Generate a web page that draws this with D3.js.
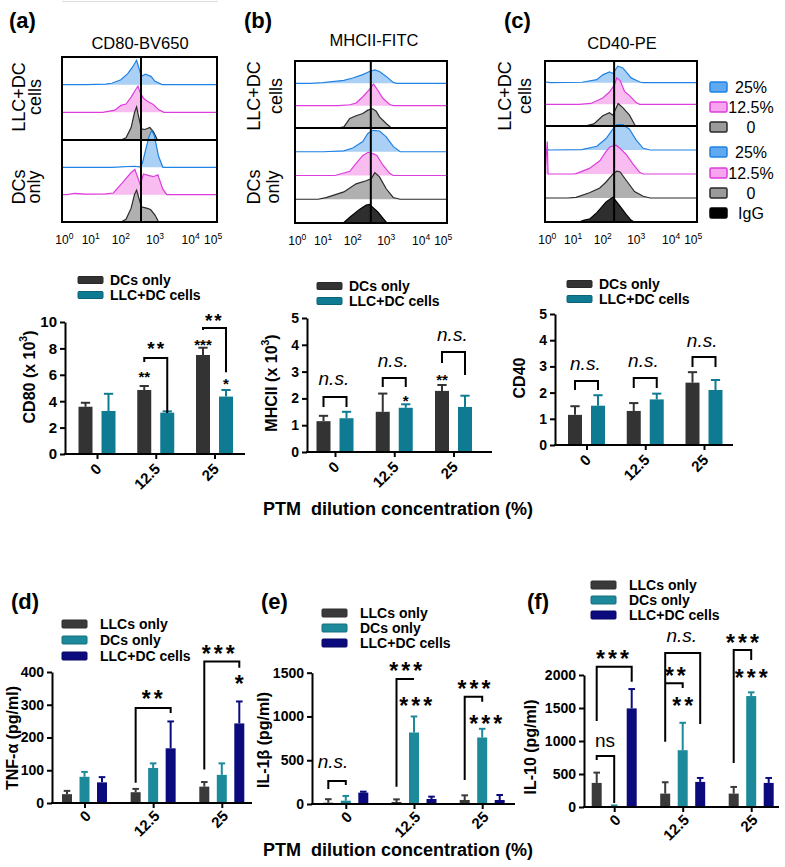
<!DOCTYPE html>
<html><head><meta charset="utf-8">
<script src="https://cdn.jsdelivr.net/npm/d3@7"></script>
<style>
body{margin:0;background:#fff}
svg{display:block}
text{font-family:Arial,"Liberation Sans",Helvetica,sans-serif}
</style>
</head><body>
<svg id="c" width="785" height="867"></svg>
<script>
// ================= DATA =================
const cats = ["0", "12.5", "25"];
const decades = [0, 1, 2, 3, 4, 5];
const upperSeries = ["DCs only", "LLC+DC cells"];
const lowerSeries = ["LLCs only", "DCs only", "LLC+DC cells"];
const histLegend = ["25%", "12.5%", "0", "25%", "12.5%", "0", "IgG"];

// flow histograms: [log10 intensity, relative count (100 = one row height)]
const cd80LlcDc25 = [[0.8,0],[1.5,2],[1.7,5],[2.0,18],[2.2,40],[2.35,65],[2.46,88],[2.53,60],[2.6,30],[2.72,38],[2.88,30],[3.0,12],[3.2,0]];
const cd80LlcDc12 = [[1.4,0],[1.8,8],[2.0,25],[2.15,30],[2.3,55],[2.42,80],[2.5,95],[2.57,70],[2.67,50],[2.8,38],[2.95,28],[3.1,10],[3.25,0]];
const cd80LlcDc0  = [[2.0,0],[2.15,8],[2.3,45],[2.4,100],[2.46,120],[2.52,85],[2.6,40],[2.7,38],[2.85,45],[2.95,30],[3.07,0]];
const cd80Dc25 = [[1.7,0],[2.2,3],[2.4,4],[2.55,2],[2.63,15],[2.72,60],[2.82,110],[2.9,133],[2.98,115],[3.1,40],[3.22,0]];
const cd80Dc12 = [[0.1,0],[0.4,5],[0.8,2],[1.5,3],[1.75,6],[2.06,45],[2.3,80],[2.41,91],[2.5,60],[2.57,35],[2.66,75],[2.8,70],[2.95,65],[3.08,72],[3.22,20],[3.33,0]];
const cd80Dc0  = [[2.0,0],[2.15,10],[2.3,50],[2.4,100],[2.46,115],[2.52,90],[2.6,55],[2.75,50],[2.87,45],[3.0,25],[3.1,0]];

const mhcLlcDc25 = [[0.5,0],[1.0,3],[1.7,13],[2.0,24],[2.3,39],[2.5,53],[2.66,60],[2.8,53],[3.0,31],[3.2,4],[3.3,0]];
const mhcLlcDc12 = [[1.5,0],[1.9,4],[2.1,12],[2.3,40],[2.5,73],[2.62,97],[2.7,80],[2.9,33],[3.1,5],[3.2,0]];
const mhcLlcDc0  = [[1.5,0],[1.7,5],[1.9,43],[2.1,55],[2.3,65],[2.45,80],[2.6,86],[2.7,75],[2.8,50],[3.0,20],[3.15,0]];
const mhcDc25 = [[1.0,0],[1.7,4],[2.0,17],[2.3,46],[2.45,82],[2.6,96],[2.8,93],[3.0,67],[3.2,24],[3.4,0]];
const mhcDc12 = [[1.4,0],[1.9,19],[2.1,54],[2.3,90],[2.46,104],[2.6,98],[2.72,90],[2.9,47],[3.1,10],[3.2,0]];
const mhcDc0  = [[0.8,0],[1.1,7],[1.7,33],[2.1,69],[2.4,83],[2.55,92],[2.66,119],[2.8,100],[3.0,47],[3.2,8],[3.4,0]];
const mhcIgG  = [[1.5,0],[1.7,2],[1.9,26],[2.2,61],[2.4,80],[2.5,83],[2.6,70],[2.75,50],[2.9,22],[3.02,0]];

const cd40LlcDc25 = [[0.0,3],[0.1,0],[1.3,2],[1.8,14],[2.0,36],[2.2,50],[2.3,42],[2.45,76],[2.6,68],[2.85,22],[3.1,3],[3.2,0]];
const cd40LlcDc12 = [[1.2,0],[1.6,4],[2.0,29],[2.2,57],[2.35,90],[2.42,122],[2.52,110],[2.65,60],[2.8,40],[3.0,8],[3.1,0]];
const cd40LlcDc0  = [[1.4,0],[1.7,10],[2.0,47],[2.2,61],[2.3,50],[2.46,104],[2.6,85],[2.8,50],[2.96,5],[3.0,0]];
const cd40Dc25 = [[0.0,2],[0.1,0],[1.3,2],[1.8,17],[2.1,53],[2.3,96],[2.42,117],[2.6,117],[2.8,96],[3.0,46],[3.2,8],[3.4,0]];
const cd40Dc12 = [[0.0,150],[0.03,0],[1.0,0],[1.1,2],[1.55,26],[1.9,61],[2.1,104],[2.22,126],[2.4,133],[2.52,118],[2.7,90],[2.9,47],[3.1,8],[3.2,0]];
const cd40Dc0  = [[0.8,0],[1.1,3],[1.55,24],[1.9,46],[2.1,74],[2.3,110],[2.42,124],[2.52,120],[2.7,82],[2.95,30],[3.2,8],[3.4,0]];
const cd40IgG  = [[1.2,0],[1.35,8],[1.57,15],[1.8,43],[2.1,93],[2.3,114],[2.38,100],[2.52,72],[2.7,35],[2.85,8],[2.95,0]];

const gateLog = {a: 2.59, b: 2.54, c: 2.34};

// bar data (upper: x10^3 MFI)
const cd80Dc = [3.58, 4.85, 7.5],  cd80DcErr = [0.3, 0.3, 0.55];
const cd80Llc = [3.26, 3.13, 4.35], cd80LlcErr = [1.3, 0.1, 0.5];
const mhcDc = [1.15, 1.5, 2.28],   mhcDcErr = [0.2, 0.68, 0.22];
const mhcLlc = [1.26, 1.65, 1.68], mhcLlcErr = [0.24, 0.13, 0.42];
const cd40Dc = [1.15, 1.3, 2.38],  cd40DcErr = [0.33, 0.3, 0.4];
const cd40Llc = [1.5, 1.74, 2.1],  cd40LlcErr = [0.4, 0.22, 0.38];

// lower (pg/ml)
const tnfLlc = [27, 33, 50],   tnfLlcErr = [10, 10, 14];
const tnfDc = [80, 107, 86],   tnfDcErr = [15, 14, 35];
const tnfMix = [63, 167, 243], tnfMixErr = [16, 82, 67];
const il1bLlc = [15, 23, 46],    il1bLlcErr = [40, 30, 53];
const il1bDc = [38, 817, 760],   il1bDcErr = [54, 183, 99];
const il1bMix = [130, 57, 46],   il1bMixErr = [11, 27, 57];
const il10Llc = [365, 203, 203],  il10LlcErr = [156, 172, 101];
const il10Dc = [15, 861, 1681],   il10DcErr = [8, 415, 56];
const il10Mix = [1494, 380, 365], il10MixErr = [293, 60, 75];

// annotations: [text, category, series position, value, style]
const annA = [["**","12.5",0,6.1,"sm"],["**","12.5",0.5,8.4,"md"],["***","25",0,8.55,"sm"],["**","25",0.45,10.5,"md"],["*","25",1,5.6,"sm"]];
const annB = [["n.s.","0",0.45,2.69,"it"],["n.s.","12.5",0.45,3.36,"it"],["*","12.5",1,2.05,"sm"],["n.s.","25",0.45,4.33,"it"],["**","25",0,2.84,"sm"]];
const annC = [["n.s.","0",0.45,3.05,"it"],["n.s.","12.5",0.42,3.17,"it"],["n.s.","25",0.42,3.93,"it"]];
const annD = [["**","12.5",0.95,336,"lg"],["***","25",0.8,473,"lg"],["*","25",2,382,"lg"]];
const annE = [["n.s.","0",0.27,468,"it"],["***","12.5",0.53,1587,"lg"],["***","12.5",1.1,1187,"lg"],["***","25",0.53,1385,"lg"],["***","25",1.2,982,"lg"]];
const annF = [["***","0",0.9,2333,"lg"],["ns","0",0.47,989,"rg"],["n.s.","12.5",0.95,2580,"it"],["**","12.5",0.58,2076,"lg"],["**","12.5",1.0,1621,"lg"],["***","25",0.5,2580,"lg"],["***","25",1,2050,"lg"]];
// brackets: [category, left series, right series, top, left-leg bottom, right-leg bottom]
const brkA = [["12.5",0,1,7.27,6.97,3.1],["25",0,1,9.55,9.4,6.2]];
const brkB = [["0",0,1,2.05,1.68,1.68],["12.5",0,1,2.76,2.43,2.43],["25",0,1,3.73,3.32,2.87]];
const brkC = [["0",0,1,2.44,2.1,2.1],["12.5",0,1,2.56,2.18,2.18],["25",0,1,3.36,2.98,2.98]];
const brkD = [["12.5",0,2,290,62,275],["25",0,2,432,102,413]];
const brkE = [["0",0,1,263,171,217],["12.5",0,1,1427,198,1427],["25",0,1,1225,274,1168]];
const brkF = [["0",0,2,2126,1303,1898],["0",0,1,773,712,60],["12.5",0,2,2333,989,1258],["12.5",0,1,1874,1874,1803],["25",0,1,2379,667,2227]];

// ================= STYLE =================
const DARK = "#333333", TEAL = "#0f7b93";
const LDARK = "#3a3a3a", LTEAL = "#1d8a9b", NAVY = "#0b0b7e";
const HC = {
  b: {fill: "#a3cdf4", stroke: "#1f82e4", sw: "#5fa9f0"},
  p: {fill: "#f8b6ef", stroke: "#dd3ddc", sw: "#f6a5ee"},
  g: {fill: "#a9a9a9", stroke: "#2a2a2a", sw: "#9a9a9a"},
  k: {fill: "#1c1c1c", stroke: "#000000", sw: "#000000"}
};
const decadeFrac = [0.015, 0.185, 0.38, 0.6, 0.83, 0.965];
const svg = d3.select("#c");

// faint artefact line at very top
svg.append("line").attr("x1",62).attr("x2",218).attr("y1",1.5).attr("y2",1.5).attr("stroke","#dddddd").attr("stroke-width",1);

function panelLabel(t, x, y) {
  svg.append("text").attr("x", x).attr("y", y).attr("font-size", 22).attr("font-weight", "bold")
    .attr("dominant-baseline", "central").text(t);
}

// ================= HISTOGRAMS =================
function drawHist(cfg) {
  const g = svg.append("g");
  const x = d3.scaleLinear().domain(decades).range(decadeFrac.map(f => cfg.x0 + f * (cfg.x1 - cfg.x0)));
  const rowH = (cfg.mid - cfg.top) / 3;
  const h = d3.scaleLinear().domain([0, 100]).range([0, rowH]);
  const xmin = x.invert(cfg.x0), xmax = x.invert(cfg.x1);
  const nBot = cfg.rows.length - 3;
  const clipId = "clip" + cfg.id;
  g.append("clipPath").attr("id", clipId).append("rect")
    .attr("x", cfg.x0).attr("y", cfg.top).attr("width", cfg.x1 - cfg.x0).attr("height", cfg.bottom - cfg.top);
  const body = g.append("g").attr("clip-path", `url(#${clipId})`);
  cfg.rows.forEach((r, i) => {
    const base = i < 3 ? cfg.top + rowH * (i + 1) : cfg.mid + (cfg.bottom - cfg.mid) / nBot * (i - 2);
    const pts = [[xmin, 0], ...r.data, [xmax, 0]];
    const c = HC[r.c];
    body.append("path").datum(pts)
      .attr("d", d3.area().x(d => x(d[0])).y0(base).y1(d => base - h(d[1])))
      .attr("fill", c.fill).attr("fill-opacity", 0.92);
    body.append("path").datum(pts)
      .attr("d", d3.line().x(d => x(d[0])).y(d => base - h(d[1])))
      .attr("fill", "none").attr("stroke", c.stroke).attr("stroke-width", 1.2);
  });
  // frame, midline, gate
  g.append("rect").attr("x", cfg.x0).attr("y", cfg.top).attr("width", cfg.x1 - cfg.x0).attr("height", cfg.bottom - cfg.top)
    .attr("fill", "none").attr("stroke", "#000").attr("stroke-width", 2);
  g.append("line").attr("x1", cfg.x0).attr("x2", cfg.x1).attr("y1", cfg.mid).attr("y2", cfg.mid).attr("stroke", "#000").attr("stroke-width", 2);
  g.append("line").attr("x1", x(cfg.gate)).attr("x2", x(cfg.gate)).attr("y1", cfg.top).attr("y2", cfg.bottom).attr("stroke", "#000").attr("stroke-width", 2);
  // decade labels
  decades.forEach(d => {
    const t = g.append("text").attr("x", x(d) + (d === 5 ? 1.5 : 0)).attr("y", cfg.bottom + 22).attr("text-anchor", "middle").attr("font-size", 12);
    t.append("tspan").text("10");
    t.append("tspan").attr("dy", -5).attr("font-size", 8.5).text(d);
  });
  // title
  g.append("text").attr("x", cfg.titleX).attr("y", cfg.titleY).attr("text-anchor", "middle")
    .attr("dominant-baseline", "central").attr("font-size", 16.5).text(cfg.title);
  // row labels
  cfg.rowLabels.forEach(rl => {
    rl.lines.forEach((ln, j) => {
      g.append("text").attr("transform", `translate(${rl.xs[j]},${rl.cy}) rotate(-90)`)
        .attr("text-anchor", "middle").attr("font-size", 18).text(ln);
    });
  });
  return x;
}

drawHist({
  id: "a", x0: 62, x1: 217, top: 57, mid: 140, bottom: 222, gate: gateLog.a,
  title: "CD80-BV650", titleX: 140, titleY: 43,
  rows: [{data: cd80LlcDc25, c: "b"}, {data: cd80LlcDc12, c: "p"}, {data: cd80LlcDc0, c: "g"},
         {data: cd80Dc25, c: "b"}, {data: cd80Dc12, c: "p"}, {data: cd80Dc0, c: "g"}],
  rowLabels: [{lines: ["LLC+DC", "cells"], xs: [25, 41], cy: 97}, {lines: ["DCs", "only"], xs: [25, 40], cy: 187}]
});
drawHist({
  id: "b", x0: 295, x1: 447, top: 61, mid: 128, bottom: 223, gate: gateLog.b,
  title: "MHCII-FITC", titleX: 374, titleY: 40,
  rows: [{data: mhcLlcDc25, c: "b"}, {data: mhcLlcDc12, c: "p"}, {data: mhcLlcDc0, c: "g"},
         {data: mhcDc25, c: "b"}, {data: mhcDc12, c: "p"}, {data: mhcDc0, c: "g"}, {data: mhcIgG, c: "k"}],
  rowLabels: [{lines: ["LLC+DC", "cells"], xs: [260, 282], cy: 96}, {lines: ["DCs", "only"], xs: [260, 279], cy: 187}]
});
drawHist({
  id: "c", x0: 545, x1: 697, top: 61, mid: 126, bottom: 222, gate: gateLog.c,
  title: "CD40-PE", titleX: 622, titleY: 43,
  rows: [{data: cd40LlcDc25, c: "b"}, {data: cd40LlcDc12, c: "p"}, {data: cd40LlcDc0, c: "g"},
         {data: cd40Dc25, c: "b"}, {data: cd40Dc12, c: "p"}, {data: cd40Dc0, c: "g"}, {data: cd40IgG, c: "k"}],
  rowLabels: [{lines: ["LLC+DC", "cells"], xs: [511, 531], cy: 96}]
});

// histogram legend (c)
const histLegendColors = ["b", "p", "g", "b", "p", "g", "k"];
const histLegendY = [87, 107, 127, 152, 173, 193, 213];
histLegend.forEach((t, i) => {
  const yy = histLegendY[i];
  const c = HC[histLegendColors[i]];
  svg.append("rect").attr("x", 710).attr("y", yy - 5).attr("width", 17).attr("height", 10).attr("rx", 1.5)
    .attr("fill", c.sw).attr("stroke", c.stroke).attr("stroke-width", 1.5);
  svg.append("text").attr("x", 751).attr("y", yy).attr("text-anchor", "middle").attr("dominant-baseline", "central")
    .attr("font-size", 16).text(t);
});

panelLabel("(a)", 9, 20);
panelLabel("(b)", 244, 20);
panelLabel("(c)", 504, 20);

// ================= BAR CHARTS =================
function starStyle(st) {
  if (st === "sm") return {fs: 15, ls: 0, it: false, bold: true};
  if (st === "md") return {fs: 19, ls: 2, it: false, bold: true};
  if (st === "lg") return {fs: 23, ls: 3, it: false, bold: true};
  if (st === "it") return {fs: 19, ls: 0, it: true, bold: false};
  return {fs: 19, ls: 0, it: false, bold: false};
}

function drawBars(cfg) {
  const g = svg.append("g");
  const n = cfg.series.length;
  const xg = d3.scalePoint().domain(cats).range([cfg.g0, cfg.g1]);
  const R = cfg.step * n - cfg.step + cfg.bw;
  const xs = d3.scaleBand().domain(d3.range(n)).range([-R / 2, R / 2]).paddingInner(1 - cfg.bw / cfg.step).paddingOuter(0);
  const y = d3.scaleLinear().domain([0, cfg.ymax]).range([cfg.yb, cfg.yt]);
  const center = s => {
    const lo = Math.floor(s), hi = Math.ceil(s);
    const cl = xs(lo) + xs.bandwidth() / 2, ch = xs(hi) + xs.bandwidth() / 2;
    return cl + (ch - cl) * (s - lo);
  };
  // bars + error bars
  cfg.vals.forEach((arr, si) => {
    arr.forEach((v, ci) => {
      const cx = xg(cats[ci]) + center(si);
      const col = cfg.colors[si];
      const top = y(v + cfg.errs[si][ci]);
      g.append("line").attr("x1", cx).attr("x2", cx).attr("y1", y(v)).attr("y2", top).attr("stroke", col).attr("stroke-width", 2);
      g.append("line").attr("x1", cx - cfg.bw * 0.33).attr("x2", cx + cfg.bw * 0.33).attr("y1", top).attr("y2", top).attr("stroke", col).attr("stroke-width", 2);
      g.append("rect").attr("x", xg(cats[ci]) + xs(si)).attr("y", y(v)).attr("width", xs.bandwidth())
        .attr("height", cfg.yb - y(v)).attr("fill", col);
    });
  });
  // y axis
  const ya = g.append("g").attr("transform", `translate(${cfg.ax0},0)`)
    .call(d3.axisLeft(y).tickValues(cfg.ticks).tickFormat(d => String(d)).tickSize(5).tickSizeOuter(0).tickPadding(3));
  ya.select(".domain").attr("stroke-width", 2);
  ya.selectAll(".tick line").attr("stroke-width", 2);
  ya.selectAll(".tick text").attr("font-size", cfg.yFont).attr("font-weight", "bold").attr("font-family", null).attr("fill", "#000");
  // x axis
  g.append("line").attr("x1", cfg.ax0 - 1).attr("x2", cfg.ax1).attr("y1", cfg.yb).attr("y2", cfg.yb).attr("stroke", "#000").attr("stroke-width", 2);
  const xa = g.append("g").attr("transform", `translate(0,${cfg.yb})`).call(d3.axisBottom(xg).tickSize(5).tickSizeOuter(0));
  xa.select(".domain").remove();
  xa.selectAll(".tick line").attr("stroke-width", 2);
  xa.selectAll(".tick text").attr("font-size", cfg.xFont).attr("font-weight", "bold").attr("font-family", null).attr("fill", "#000")
    .attr("x", 0).attr("y", 0).attr("dy", null).attr("text-anchor", "end").attr("dominant-baseline", "central")
    .attr("transform", `translate(${cfg.xdx},${cfg.xdy}) rotate(-45)`);
  // y title
  const yt = g.append("text").attr("transform", `translate(${cfg.ytx},${cfg.yty}) rotate(-90)`)
    .attr("text-anchor", "middle").attr("dominant-baseline", "central")
    .attr("font-size", cfg.ytFont).attr("font-weight", "bold");
  cfg.yTitle.forEach(part => {
    if (part.sup) yt.append("tspan").attr("baseline-shift", "super").attr("font-size", cfg.ytFont * 0.65).text(part.t);
    else yt.append("tspan").text(part.t);
  });
  // brackets
  cfg.brk.forEach(b => {
    const base = xg(b[0]);
    const xl = base + center(b[1]), xr = base + center(b[2]);
    g.append("path").attr("d", d3.line()([[xl, y(b[4])], [xl, y(b[3])], [xr, y(b[3])], [xr, y(b[5])]]))
      .attr("fill", "none").attr("stroke", "#000").attr("stroke-width", 2);
  });
  // annotations
  cfg.ann.forEach(a => {
    const st = starStyle(a[4]);
    const isStar = a[0].indexOf("*") >= 0;
    const off = isStar ? 0.6 * st.fs : 0.27 * st.fs;
    g.append("text").attr("x", xg(a[1]) + center(a[2]) + st.ls / 2).attr("y", y(a[3]) + off)
      .attr("text-anchor", "middle").attr("font-size", st.fs)
      .attr("font-weight", st.bold ? "bold" : "normal").attr("font-style", st.it ? "italic" : "normal")
      .attr("letter-spacing", st.ls).text(a[0]);
  });
  // legend
  cfg.series.forEach((s, i) => {
    const ly = cfg.legY[i];
    g.append("rect").attr("x", cfg.legX).attr("y", ly - cfg.legH / 2).attr("width", 25).attr("height", cfg.legH).attr("rx", 1)
      .attr("fill", cfg.colors[i]).attr("stroke", d3.color(cfg.colors[i]).darker(0.6)).attr("stroke-width", 1);
    g.append("text").attr("x", cfg.legX + cfg.legTx).attr("y", ly).attr("dominant-baseline", "central")
      .attr("font-size", 14).attr("font-weight", "bold").text(s);
  });
}

const upper = {series: upperSeries, colors: [DARK, TEAL], bw: 14, step: 23, yFont: 15, xFont: 15, xdx: 1, xdy: 12, ytFont: 16, legH: 7, legTx: 32};
const lower = {series: lowerSeries, colors: [LDARK, LTEAL, NAVY], bw: 10, step: 17.5, yFont: 14, xFont: 15, xdx: 3, xdy: 10, ytFont: 16, legH: 8, legTx: 38};

drawBars(Object.assign({}, upper, {
  ax0: 65, ax1: 245, g0: 97, g1: 214.5, yb: 454, yt: 322, ymax: 10, ticks: [0, 2, 4, 6, 8, 10],
  vals: [cd80Dc, cd80Llc], errs: [cd80DcErr, cd80LlcErr],
  yTitle: [{t: "CD80 (x 10"}, {t: "3", sup: true}, {t: ")"}], ytx: 28.5, yty: 377,
  ann: annA, brk: brkA, legX: 78, legY: [280, 295]
}));
drawBars(Object.assign({}, upper, {
  ax0: 307, ax1: 492, g0: 335, g1: 453.5, yb: 452, yt: 318, ymax: 5, ticks: [0, 1, 2, 3, 4, 5], yFont: 14,
  vals: [mhcDc, mhcLlc], errs: [mhcDcErr, mhcLlcErr],
  yTitle: [{t: "MHCII (x 10"}, {t: "3", sup: true}, {t: ")"}], ytx: 271, yty: 383,
  ann: annB, brk: brkB, legX: 317, legY: [286, 301]
}));
drawBars(Object.assign({}, upper, {
  ax0: 555, ax1: 733, g0: 586.5, g1: 704, yb: 445, yt: 314, ymax: 5, ticks: [0, 1, 2, 3, 4, 5], yFont: 14,
  vals: [cd40Dc, cd40Llc], errs: [cd40DcErr, cd40LlcErr],
  yTitle: [{t: "CD40"}], ytx: 519, yty: 378,
  ann: annC, brk: brkC, legX: 567, legY: [284, 299]
}));
drawBars(Object.assign({}, lower, {
  ax0: 52, ax1: 252, g0: 84.5, g1: 221.8, yb: 803, yt: 672, ymax: 400, ticks: [0, 100, 200, 300, 400],
  vals: [tnfLlc, tnfDc, tnfMix], errs: [tnfLlcErr, tnfDcErr, tnfMixErr],
  yTitle: [{t: "TNF-α (pg/ml)"}], ytx: 12, yty: 738,
  ann: annD, brk: brkD, legX: 62, legY: [624, 640, 656]
}));
drawBars(Object.assign({}, lower, {
  ax0: 312, ax1: 515, g0: 345.8, g1: 482.2, yb: 804, yt: 672.7, ymax: 1500, ticks: [0, 500, 1000, 1500],
  vals: [il1bLlc, il1bDc, il1bMix], errs: [il1bLlcErr, il1bDcErr, il1bMixErr],
  yTitle: [{t: "IL-1β (pg/ml)"}], ytx: 263, yty: 740,
  ann: annE, brk: brkE, legX: 322, legY: [613, 628, 643]
}));
drawBars(Object.assign({}, lower, {
  ax0: 584, ax1: 779, g0: 614.2, g1: 751.2, yb: 807, yt: 675, ymax: 2000, ticks: [0, 500, 1000, 1500, 2000],
  vals: [il10Llc, il10Dc, il10Mix], errs: [il10LlcErr, il10DcErr, il10MixErr],
  yTitle: [{t: "IL-10 (pg/ml)"}], ytx: 530, yty: 747,
  ann: annF, brk: brkF, legX: 591, legY: [585, 600, 615]
}));

panelLabel("(d)", 11, 601);
panelLabel("(e)", 261, 601);
panelLabel("(f)", 527, 601);

// shared x titles
[509, 850].forEach(yy => {
  svg.append("text").attr("x", 398).attr("y", yy).attr("text-anchor", "middle").attr("dominant-baseline", "central")
    .attr("font-size", 18).attr("font-weight", "bold").attr("xml:space", "preserve").text("PTM  dilution concentration (%)");
});
</script>
</body></html>
